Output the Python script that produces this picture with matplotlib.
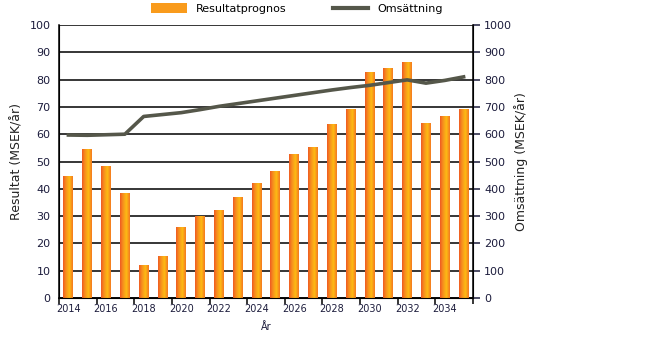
import numpy as np
import matplotlib
matplotlib.use('Agg')
import matplotlib.pyplot as plt
from matplotlib.colors import LinearSegmentedColormap
from matplotlib.patches import Patch
from matplotlib.lines import Line2D

# data
years = list(range(2014, 2036))
resultat = [44.4, 54.3, 48.3, 38.2, 11.8, 15.1, 25.7, 29.8, 31.9, 36.7, 41.8,
            46.5, 52.4, 55.3, 63.4, 69.0, 82.5, 84.0, 86.2, 64.0, 66.5, 69.0]
omsattning = [597, 596, 598, 600, 665, 672, 679, 690, 702, 712, 722,
              732, 742, 752, 762, 771, 779, 789, 799, 787, 797, 810]

txt_col = '#1c1c3c'
plt.rcParams['font.family'] = ['DejaVu Sans']
plt.rcParams['font.size'] = 7

fig = plt.figure(figsize=(6.6, 3.37), dpi=100)
ax = fig.add_axes([59/660, 1 - 298/337, 414/660, 273/337])
ax2 = ax.twinx()

x = np.arange(len(years))

# gradient bars (orange edges, yellow near the middle)
cmap = LinearSegmentedColormap.from_list(
    'og', [(0, '#ef5b22'), (0.3, '#f7901e'), (0.65, '#fdbb14'), (1, '#f47920')])
grad = np.linspace(0, 1, 64).reshape(1, -1)
w = 0.53
for xi, v in zip(x, resultat):
    ax.imshow(grad, cmap=cmap, aspect='auto', extent=(xi - w/2, xi + w/2, 0, v), zorder=3)
ax.set_xlim(-0.5, len(years) - 0.5)
ax.set_ylim(0, 100)
ax2.set_ylim(0, 1000)

ax2.plot(x, omsattning, color='#55574a', lw=2.6, zorder=4)

# grid and spines
ax.set_yticks(np.arange(0, 101, 10))
ax.yaxis.grid(True, color='black', lw=1.1)
ax.set_axisbelow(True)
ax.spines['top'].set_visible(False)
ax2.spines['top'].set_visible(False)
ax.spines['left'].set_linewidth(1.1)
ax.spines['bottom'].set_linewidth(1.1)
ax2.spines['right'].set_linewidth(1.1)
ax.tick_params(axis='y', length=0, pad=6, colors=txt_col)
ax2.set_yticks(np.arange(0, 1001, 100))
ax2.tick_params(axis='y', length=5, width=1.1, pad=3, colors=txt_col)
for t in ax.get_yticklabels() + ax2.get_yticklabels():
    t.set_fontsize(8)

# x ticks: marks at every second boundary, labels on even years
ax.set_xticks(np.arange(-0.5, len(years), 2))
ax.set_xticklabels([])
ax.tick_params(axis='x', which='major', length=4, width=1.1)
ax.set_xticks(x[::2], minor=True)
ax.set_xticklabels([str(y) for y in years[::2]], minor=True)
ax.tick_params(axis='x', which='minor', length=0, pad=4, colors=txt_col, labelsize=7)

ax.set_xlabel('År', fontsize=7, color=txt_col, labelpad=6)
fig.text(17/660, 1 - 162/337, 'Resultat (MSEK/år)', rotation=90, ha='center', va='center',
         fontsize=9, color='#222222')
fig.text(521/660, 1 - 162/337, 'Omsättning (MSEK/år)', rotation=90, ha='center', va='center',
         fontsize=9, color='#222222')

handles = [Patch(facecolor='#f99b1c', edgecolor='none'),
           Line2D([0], [0], color='#55574a', lw=3)]
fig.legend(handles, ['Resultatprognos', 'Omsättning'], loc='upper center',
           bbox_to_anchor=(0.45, 1.02), ncol=2, frameon=False, fontsize=8,
           handlelength=3.2, columnspacing=4.2, handleheight=1.0)

fig.savefig('out.png', dpi=100)
